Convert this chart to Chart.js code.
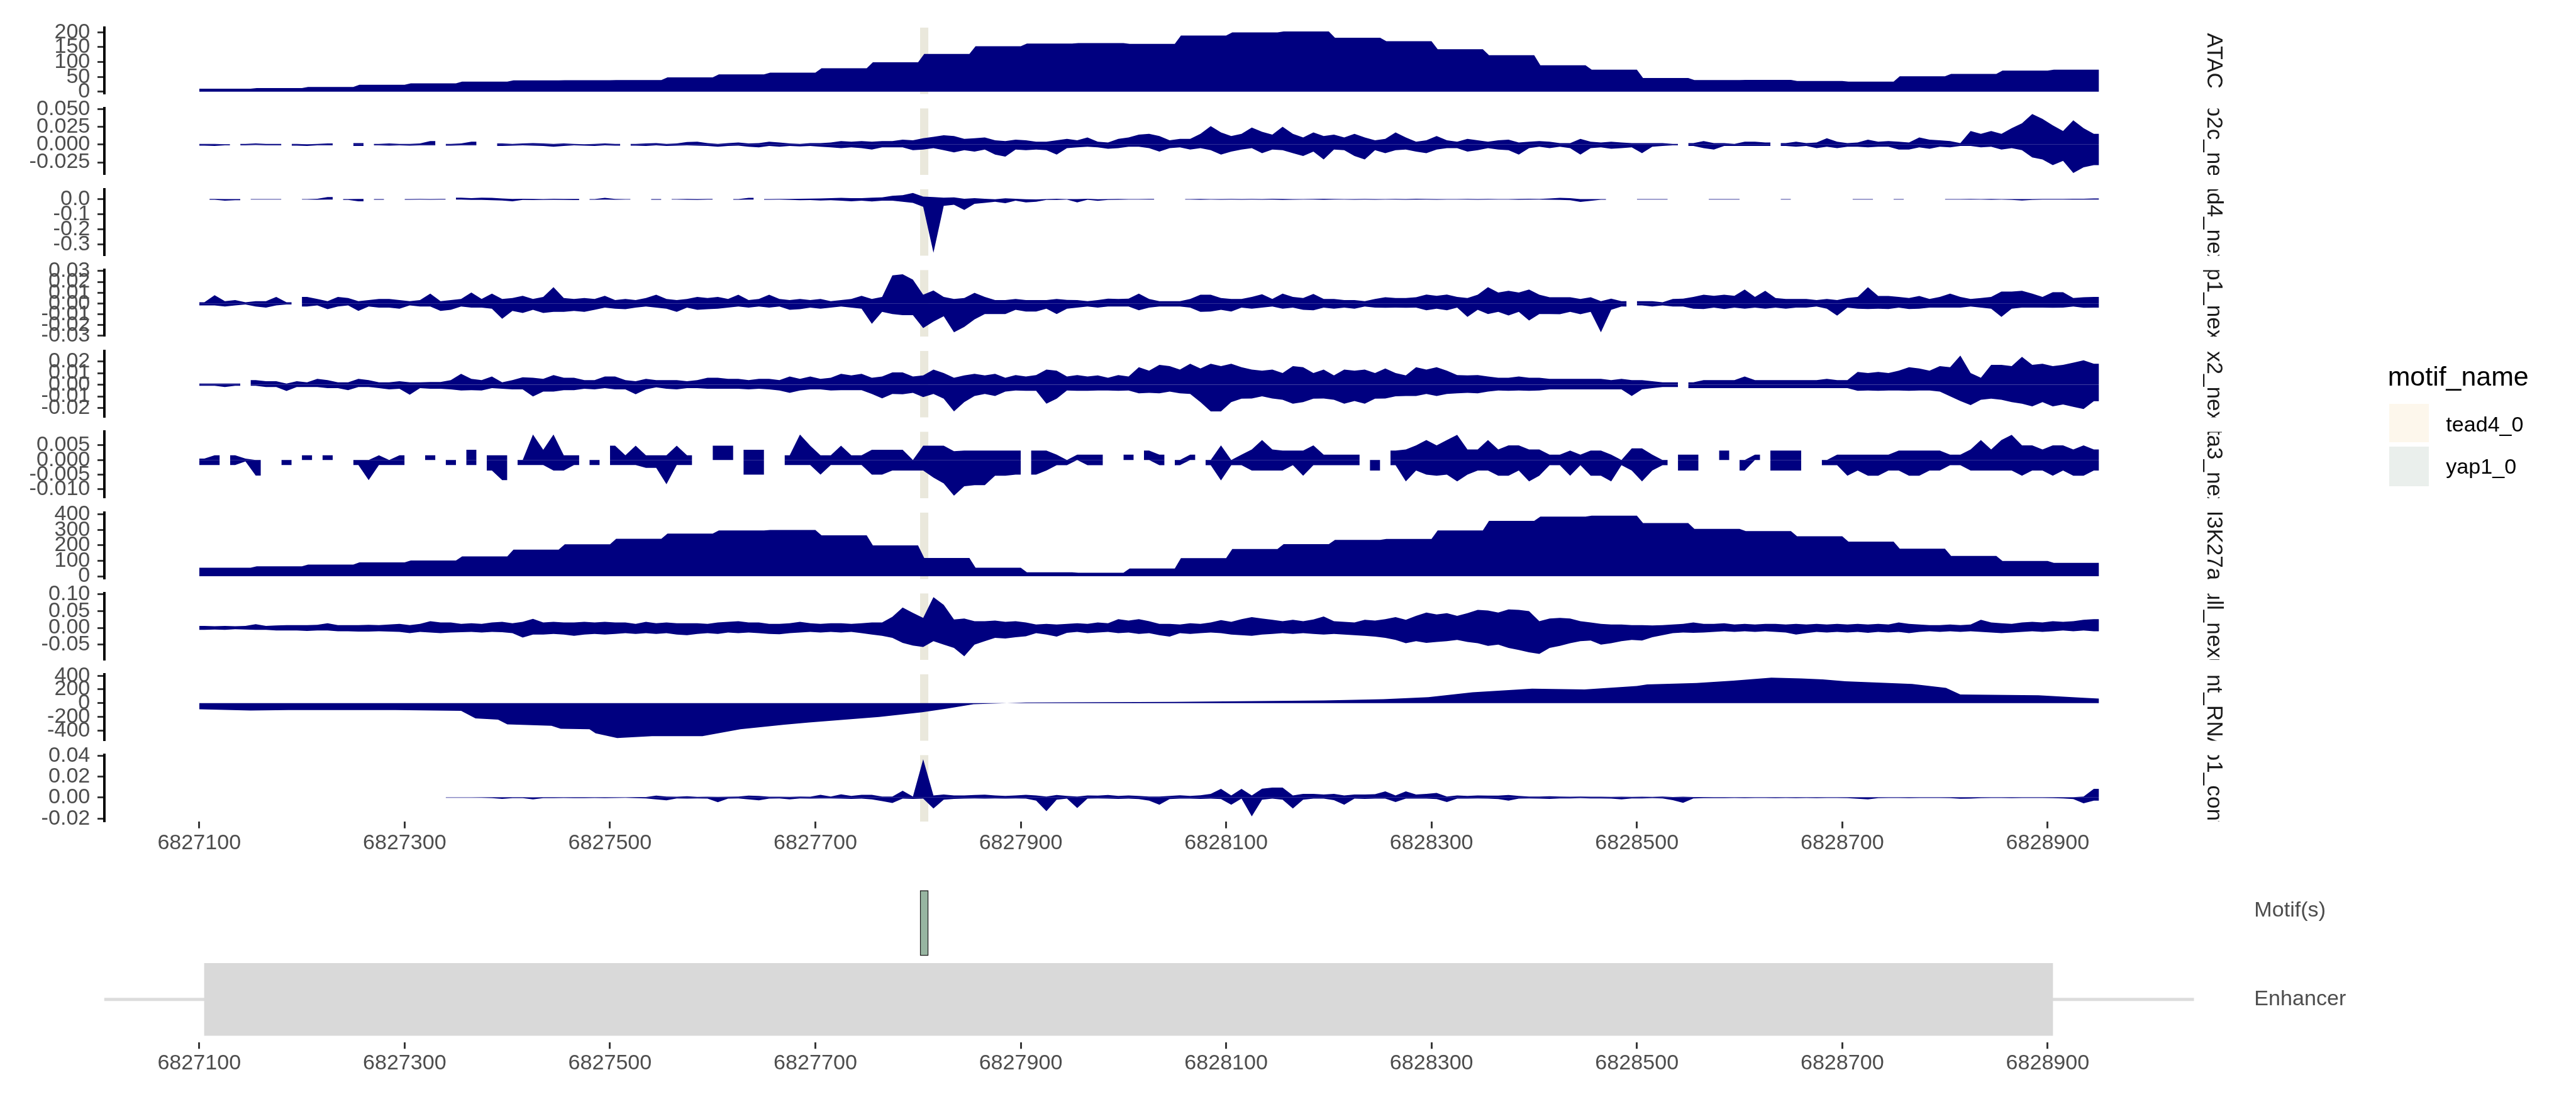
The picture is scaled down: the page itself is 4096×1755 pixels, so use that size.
<!DOCTYPE html>
<html><head><meta charset="utf-8">
<script src="https://cdn.jsdelivr.net/npm/chart.js@4.4.1/dist/chart.umd.min.js"></script>
<style>
html,body{margin:0;padding:0;background:#fff;}
#root{position:relative;width:4096px;height:1755px;overflow:hidden;background:#fff;}
#root canvas{position:absolute;left:0;}
.lg{position:absolute;line-height:1;white-space:nowrap;font-family:"Liberation Sans",Arial,Helvetica,sans-serif;}
</style></head>
<body><div id="root"></div>
<script>
const _ = null;
// ---------------- DATA ----------------
const xTickValues = [6827100,6827300,6827500,6827700,6827900,6828100,6828300,6828500,6828700,6828900];
// 50 bp bins starting at 6827100
const atacBins = [10,12,16,23,28,34,38,38.5,39,48,58,64,79,99,127,153,162,163.5,161,189,200,203,182,170,143,123,89,74,46,39,39.5,36,34,52,60,71,74];
const h3k27acBins = [55,64,76,90,102,129,172,207,243,276,297,300,265,200,118,55,26,23,50,117,176,208,235,242,297,359,386,392,344,307,293,259,224,178,132,99,87];
// nascent RNA (position, value)
const rnaPositions = [6827100,6827150,6827187,6827291,6827355,6827369,6827391,6827400,6827443,6827452,6827480,6827486,6827507,6827541,6827590,6827627,6827670,6827694,6827762,6827804,6827828,6827854,6827905,6828050,6828195,6828253,6828297,6828340,6828398,6828449,6828500,6828510,6828558,6828594,6828631,6828660,6828681,6828703,6828768,6828801,6828815,6828891,6828935,6828950];
const rnaValues = [-89,-109,-101,-101,-113,-222,-242,-310,-330,-375,-382,-442,-511,-483,-483,-382,-314,-282,-202,-133,-81,-15,8,19,39,58,88,158,212,200,250,274,293,328,373,360,346,319,281,223,127,115,77,67];
// 10 bp bins centred at 6827105 + 10*j (positive / negative envelopes)
const tfap2cPos = [
.001,.001,.0005,_,.001,.0015,.001,.001,_,.001,
.0005,.001,.0015,_,_,.002,_,.001,.0015,.001,
.001,.0015,.005,_,.001,.0015,.004,_,_,.0015,
.001,.0015,.002,.0015,.001,.0015,.001,.0005,.001,.0015,
.001,_,.001,.0015,.002,.001,.0015,.0035,.004,.002,
.001,.002,.003,.0015,.002,.004,.003,.0015,.001,.002,
.002,.003,.005,.004,.005,.004,.005,.005,.007,.006,
.009,.011,.013,.012,.008,.009,.010,.006,.005,.007,
.006,.004,.004,.006,.008,.006,.010,.004,.003,.008,
.010,.014,.015,.012,.006,.008,.008,.015,.026,.017,
.012,.015,.024,.018,.014,.025,.015,.010,.017,.012,
.014,.010,.015,.010,.006,.008,.017,.010,.004,.006,
.012,.006,.004,.008,.006,.004,.006,.007,.003,.004,
.005,.004,.002,.002,.008,.004,.003,.004,.003,.002,
.002,.002,.002,.001,_,.002,.005,.002,.002,.001,
.004,.004,.003,_,.002,.004,.002,.003,.009,.004,
.002,.003,.007,.004,.005,.004,.003,.010,.007,.006,
.005,.002,.019,.015,.019,.015,.023,.030,.043,.036,
.027,.019,.034,.023,.015];
const tfap2cNeg = [
-.0015,-.002,-.001,_,-.001,-.0005,-.001,-.001,_,-.0015,
-.002,-.001,-.001,_,_,-.002,_,-.001,-.0015,-.001,
-.0015,-.001,-.001,_,-.0015,-.001,-.001,_,_,-.002,
-.0015,-.001,-.0015,-.002,-.003,-.002,-.001,-.0015,-.002,-.001,
-.0015,_,-.0015,-.002,-.001,-.002,-.0015,-.001,-.0015,-.002,
-.003,-.002,-.0015,-.003,-.004,-.002,-.003,-.002,-.0025,-.002,
-.003,-.004,-.005,-.004,-.005,-.007,-.004,-.004,-.004,-.008,
-.007,-.005,-.008,-.011,-.008,-.010,-.007,-.014,-.017,-.007,
-.008,-.007,-.008,-.014,-.005,-.004,-.003,-.004,-.006,-.005,
-.003,-.003,-.005,-.010,-.005,-.004,-.007,-.005,-.008,-.014,
-.010,-.007,-.005,-.012,-.007,-.008,-.012,-.016,-.010,-.021,
-.007,-.008,-.016,-.021,-.008,-.012,-.008,-.007,-.010,-.012,
-.007,-.005,-.005,-.010,-.008,-.005,-.007,-.008,-.014,-.005,
-.003,-.005,-.003,-.005,-.014,-.005,-.004,-.006,-.005,-.004,
-.012,-.003,-.002,-.001,_,-.002,-.005,-.007,-.002,-.002,
-.002,-.002,-.002,_,-.002,-.003,-.002,-.005,-.003,-.005,
-.003,-.003,-.004,-.003,-.003,-.007,-.007,-.004,-.006,-.003,
-.004,-.002,-.002,-.004,-.003,-.007,-.005,-.008,-.018,-.021,
-.029,-.023,-.040,-.032,-.029];
const tead4Pos = [
_,.003,.002,.002,_,.002,.002,.002,_,_,
.002,.004,.015,_,.002,.003,_,.002,_,_,
.002,.003,.002,.003,_,.011,.008,.011,.010,.006,
.003,.004,.003,.002,.004,.003,.003,_,.002,.010,
.003,.002,_,_,.002,_,.002,.003,.002,.003,
_,_,.002,.010,_,.002,.003,.003,.004,.005,
.006,.008,.010,.008,.008,.011,.013,.024,.028,.042,
.018,.015,.011,.013,.004,.008,.004,.001,.007,.004,
.001,0,.002,.004,.002,.002,.004,.001,.002,.003,
.002,.002,.003,_,_,_,.002,.003,.002,.002,
.003,.002,.003,.002,.004,.003,.002,.002,.003,.004,
.003,.002,.002,.003,.002,.002,.003,.002,.004,.003,
.002,.002,.002,.003,.002,.003,.002,.002,.003,.004,
.003,.006,.010,.008,.002,.002,.002,_,_,_,
.002,.002,.002,_,_,_,_,.002,.002,.002,
_,_,_,_,.002,_,_,_,_,_,
_,.002,.002,_,_,.002,_,_,_,_,
.002,.002,.003,.002,.003,.002,.002,.002,.002,.003,
.003,.003,.004,.004,.006];
const tead4Neg = [
_,-.003,-.009,-.006,_,-.002,-.002,-.002,_,_,
-.002,-.003,-.002,_,-.004,-.013,_,-.003,_,_,
-.003,-.002,-.003,-.002,_,-.002,-.004,-.004,-.006,-.008,
-.013,-.004,-.005,-.004,-.003,-.004,-.005,_,-.003,-.002,
-.003,-.002,_,_,-.003,_,-.002,-.003,-.004,-.002,
_,_,-.003,-.002,_,-.003,-.002,-.004,-.006,-.005,
-.008,-.006,-.009,-.013,-.009,-.014,-.009,-.009,-.016,-.023,
-.05,-.354,-.043,-.036,-.07,-.030,-.023,-.016,-.026,-.009,
-.020,-.016,-.004,-.004,-.002,-.020,-.003,-.010,-.004,-.003,
-.002,-.002,-.002,_,_,_,-.002,-.003,-.002,-.003,
-.002,-.003,-.002,-.003,-.002,-.004,-.003,-.002,-.002,-.003,
-.002,-.002,-.003,-.002,-.003,-.002,-.002,-.003,-.002,-.002,
-.003,-.002,-.002,-.002,-.003,-.002,-.002,-.002,-.003,-.002,
-.002,-.003,-.004,-.006,-.017,-.010,-.003,_,_,_,
-.002,-.002,-.002,_,_,_,_,-.002,-.002,-.002,
_,_,_,_,-.002,_,_,_,_,_,
_,-.002,-.002,_,_,-.002,_,_,_,_,
-.002,-.002,-.002,-.002,-.003,-.002,-.004,-.008,-.004,-.002,
-.002,-.002,-.002,-.002,-.002];
const yap1Pos = [
.001,.0076,.002,.003,.001,.002,.002,.006,.001,_,
.006,.004,.002,.006,.005,.002,.003,.004,.004,.003,
.002,.003,.009,.002,.003,.004,.010,.004,.009,.004,
.005,.007,.004,.006,.015,.005,.004,.005,.004,.007,
.003,.004,.003,.005,.008,.004,.003,.004,.006,.005,
.006,.004,.008,.003,.004,.008,.004,.003,.004,.003,
.004,.002,.003,.004,.007,.004,.006,.026,.027,.022,
.008,.012,.006,.004,.005,.0097,.006,.003,.003,.004,
.003,.003,.003,.004,.0032,.003,.002,.003,.0044,.004,
.0044,.009,.004,.002,.002,.002,.004,.008,.008,.005,
.004,.004,.006,.0085,.004,.009,.006,.005,.0087,.004,
.004,.003,.003,.002,.004,.0056,.005,.005,.0056,.0082,
.007,.0082,.006,.005,.008,.015,.010,.0116,.010,.0128,
.008,.0056,.0056,.0056,.004,.0056,.002,.0044,.002,_,
.002,.002,.001,.004,.0044,.006,.008,.007,.008,.007,
.0128,.006,.0116,.005,.004,.004,.004,.003,.004,.003,
.005,.006,.015,.0068,.0068,.006,.005,.0068,.004,.006,
.009,.006,.004,.005,.006,.011,.011,.0116,.009,.006,
.0104,.0104,.005,.0056,.006];
const yap1Neg = [
-.002,-.002,-.003,-.002,-.001,-.003,-.004,-.002,-.001,_,
-.003,-.002,-.0055,-.003,-.002,-.007,-.003,-.004,-.004,-.005,
-.002,-.003,-.003,-.007,-.006,-.003,-.004,-.004,-.005,-.0144,
-.007,-.009,-.006,-.009,-.008,-.008,-.007,-.008,-.006,-.004,
-.005,-.0055,-.004,-.003,-.004,-.005,-.008,-.004,-.006,-.0055,
-.005,-.004,-.003,-.004,-.003,-.004,-.003,-.006,-.0055,-.004,
-.005,-.004,-.003,-.004,-.005,-.019,-.008,-.010,-.011,-.011,
-.023,-.017,-.012,-.027,-.022,-.015,-.010,-.010,-.010,-.006,
-.0077,-.0077,-.005,-.010,-.005,-.004,-.003,-.004,-.003,-.003,
-.003,-.0065,-.004,-.003,-.003,-.003,-.004,-.008,-.0077,-.006,
-.0077,-.004,-.005,-.004,-.003,-.005,-.004,-.006,-.0065,-.004,
-.005,-.004,-.005,-.003,-.004,-.0041,-.004,-.0041,-.004,-.0065,
-.005,-.0065,-.004,-.0126,-.006,-.010,-.008,-.0113,-.008,-.016,
-.010,-.010,-.0101,-.008,-.0101,-.008,-.027,-.006,-.003,_,
-.002,-.003,-.002,-.003,-.003,-.005,-.0053,-.004,-.0053,-.004,
-.005,-.004,-.005,-.004,-.005,-.004,-.004,-.003,-.005,-.0114,
-.004,-.005,-.0053,-.005,-.0053,-.004,-.0053,-.005,-.004,-.004,
-.004,-.004,-.003,-.004,-.005,-.0126,-.005,-.004,-.004,-.004,
-.0041,-.004,-.003,-.0041,-.004];
const cdx2Pos = [
.001,.001,.001,.001,_,.004,.003,.003,.001,.003,
.002,.005,.004,.002,.002,.005,.004,.002,.002,.003,
.002,.002,.0023,.0023,.004,.0094,.005,.004,.007,.002,
.004,.0063,.006,.005,.0082,.006,.006,.004,.004,.007,
.007,.004,.003,.005,.004,.004,.004,.003,.004,.006,
.006,.005,.005,.004,.005,.005,.004,.007,.005,.007,
.005,.006,.0094,.008,.0094,.006,.007,.0106,.0106,.007,
.008,.013,.010,.006,.008,.0094,.008,.0094,.006,.0083,
.007,.0083,.013,.012,.007,.0083,.007,.008,.006,.0083,
.007,.015,.012,.017,.016,.013,.018,.014,.018,.016,
.018,.015,.013,.012,.013,.010,.016,.015,.010,.013,
.008,.013,.012,.013,.010,.014,.010,.008,.015,.013,
.015,.012,.0083,.008,.0083,.007,.006,.006,.007,.006,
.006,.005,.005,.005,.005,.005,.005,.004,.005,.004,
.004,.003,.002,.002,_,.002,.004,.004,.004,.004,
.007,.004,.004,.004,.004,.004,.004,.004,.005,.004,
.004,.011,.010,.011,.010,.012,.015,.014,.012,.016,
.015,.025,.010,.006,.017,.017,.016,.024,.017,.018,
.016,.017,.019,.021,.018];
const cdx2Neg = [
-.001,-.001,-.002,-.001,_,-.001,-.002,-.002,-.0054,-.002,
-.002,-.002,-.003,-.003,-.0047,-.002,-.002,-.003,-.004,-.0035,
-.0087,-.003,-.0035,-.0035,-.004,-.005,-.0047,-.005,-.003,-.0035,
-.004,-.004,-.0101,-.006,-.006,-.0047,-.0047,-.0035,-.004,-.003,
-.004,-.004,-.0082,-.004,-.0023,-.0035,-.004,-.003,-.003,-.0035,
-.0035,-.0035,-.0035,-.004,-.0035,-.004,-.005,-.007,-.005,-.004,
-.004,-.005,-.0047,-.0047,-.0047,-.008,-.0117,-.008,-.0082,-.007,
-.0106,-.008,-.012,-.023,-.015,-.0097,-.008,-.0097,-.006,-.005,
-.0052,-.0052,-.0164,-.012,-.005,-.0052,-.0052,-.005,-.005,-.0052,
-.005,-.0074,-.007,-.0074,-.006,-.0074,-.008,-.015,-.023,-.023,
-.015,-.012,-.0119,-.010,-.0119,-.013,-.0164,-.015,-.012,-.0119,
-.013,-.0164,-.014,-.0164,-.012,-.0119,-.010,-.0097,-.0097,-.008,
-.0097,-.008,-.0074,-.007,-.0074,-.006,-.005,-.0052,-.005,-.0052,
-.005,-.004,-.004,-.004,-.004,-.004,-.004,-.004,-.004,-.0097,
-.004,-.003,-.002,-.002,_,-.003,-.003,-.003,-.003,-.003,
-.003,-.003,-.003,-.003,-.003,-.003,-.003,-.003,-.003,-.003,
-.003,-.0052,-.005,-.0052,-.005,-.005,-.0052,-.005,-.005,-.006,
-.010,-.014,-.0175,-.013,-.012,-.013,-.015,-.0164,-.0187,-.015,
-.0187,-.017,-.019,-.021,-.0142];
const gata3Pos = [
.0005,.0016,_,.0016,.0005,0,_,_,0,_,
.0016,_,.0016,_,_,0,0,.0016,0,.0016,
_,_,.0016,_,0,_,.0035,_,.0016,.0016,
_,0,.0087,.0035,.0087,.0016,.0016,_,0,_,
.0049,.0016,.0049,.0016,.0016,.0016,.0049,.0016,_,_,
.0049,.0049,_,.0035,.0035,_,_,.0016,.0087,.0049,
.0016,.0016,.0049,.0016,.0016,.0035,.0035,.0035,.0035,0,
.0049,.0049,.0049,.003,.0032,.0032,.0032,.0032,.0032,.0032,
_,.0032,.0032,.0018,0,.0018,.0018,.0018,_,_,
.0018,_,.0032,.0018,_,0,.0018,_,0,.005,
0,.0018,.0036,.0068,.0036,.0032,.0032,.0032,.005,.0018,
.0018,.0018,.0018,_,0,_,.0032,.0036,.005,.0068,
.005,.0068,.0086,.0036,.0036,.0068,.0036,.005,.005,.0036,
.0036,.0018,.0018,.0032,.0018,.0032,.0032,.0018,0,.004,
.004,.0018,0,_,.0018,.0018,_,_,.0032,_,
0,.0018,_,.0032,.0032,.0032,_,_,0,.0018,
.0018,.0018,.0018,.0018,.0018,.0032,.0032,.0032,.0032,.0032,
.0018,.0018,.0036,.0068,.0036,.0068,.0086,.005,.005,.0036,
.005,.005,.0036,.005,.0036];
const gata3Neg = [
-.0017,-.0017,_,-.0017,-.0005,-.0053,_,_,-.0017,_,
0,_,0,_,_,-.0017,-.0069,-.0017,-.0017,-.0017,
_,_,0,_,-.0017,_,-.0017,_,-.0036,-.0069,
_,-.0017,-.0017,-.0017,-.0036,-.0036,-.0017,_,-.0017,_,
-.0017,-.0017,-.0017,-.0027,-.0027,-.0083,-.0017,-.0017,_,_,
0,0,_,-.005,-.005,_,_,-.0017,-.0017,-.0017,
-.005,-.0017,-.0017,-.0017,-.0017,-.005,-.005,-.0036,-.0036,-.0036,
-.0036,-.006,-.008,-.0122,-.009,-.0086,-.0086,-.0054,-.0054,-.005,
_,-.005,-.0036,-.0018,-.0018,0,-.0018,-.0018,_,_,
0,_,0,-.0018,_,-.0018,0,_,-.0018,-.007,
-.0018,-.0018,-.0036,-.0036,-.0036,-.0036,-.0018,-.0054,-.0018,-.0018,
-.0018,-.0018,-.0018,_,-.0036,_,-.0018,-.0073,-.0036,-.005,
-.0054,-.005,-.0073,-.005,-.0036,-.0036,-.0054,-.0054,-.0036,-.0073,
-.0054,-.0018,-.0018,-.0054,-.0018,-.0054,-.0054,-.0073,-.0018,-.0036,
-.0073,-.0036,-.0018,_,-.0036,-.0036,_,_,0,_,
-.0036,0,_,-.0036,-.0036,-.0036,_,_,-.0018,-.0018,
-.0054,-.0036,-.0054,-.0054,-.0036,-.0036,-.0054,-.0054,-.0036,-.0036,
-.0018,-.0018,-.0036,-.0036,-.0036,-.0036,-.0036,-.0054,-.0036,-.0036,
-.0054,-.0036,-.0054,-.0054,-.0036];
const pol2Pos = [
.006,.005,.006,.005,.006,.011,.006,.007,.008,.008,
.008,.009,.014,.008,.008,.008,.009,.008,.010,.012,
.008,.012,.020,.016,.016,.012,.014,.012,.016,.018,
.014,.018,.027,.016,.018,.016,.016,.018,.016,.018,
.016,.016,.012,.018,.014,.016,.014,.014,.014,.012,
.016,.018,.020,.016,.016,.012,.012,.014,.018,.014,
.012,.014,.014,.012,.014,.016,.016,.033,.061,.045,
.030,.092,.069,.025,.028,.020,.020,.022,.018,.020,
.016,.010,.012,.010,.012,.014,.012,.016,.014,.026,
.022,.026,.020,.012,.012,.010,.014,.012,.016,.023,
.018,.026,.032,.028,.024,.020,.024,.020,.025,.034,
.020,.018,.016,.024,.022,.026,.032,.024,.036,.046,
.040,.044,.036,.044,.054,.052,.046,.055,.054,.050,
.020,.028,.030,.028,.020,.016,.012,.010,.010,.008,
.008,.007,.008,.010,.012,.016,.012,.012,.014,.010,
.012,.010,.012,.012,.010,.012,.010,.012,.010,.012,
.010,.012,.010,.012,.010,.016,.012,.010,.008,.008,
.010,.008,.010,.024,.016,.014,.012,.016,.018,.016,
.020,.018,.020,.024,.026];
const pol2Neg = [
-.006,-.005,-.006,-.004,-.005,-.006,-.006,-.008,-.008,-.008,
-.009,-.008,-.008,-.010,-.010,-.011,-.011,-.010,-.011,-.012,
-.016,-.012,-.014,-.016,-.014,-.013,-.012,-.014,-.012,-.013,
-.016,-.029,-.020,-.020,-.018,-.020,-.024,-.020,-.018,-.020,
-.018,-.016,-.018,-.016,-.018,-.016,-.020,-.022,-.018,-.016,
-.018,-.014,-.016,-.014,-.016,-.018,-.019,-.016,-.014,-.012,
-.014,-.012,-.014,-.012,-.016,-.020,-.024,-.030,-.045,-.053,
-.057,-.040,-.050,-.060,-.085,-.050,-.040,-.030,-.032,-.028,
-.025,-.016,-.020,-.026,-.015,-.012,-.016,-.014,-.012,-.016,
-.014,-.018,-.016,-.022,-.026,-.016,-.018,-.016,-.014,-.016,
-.020,-.022,-.024,-.020,-.018,-.016,-.018,-.016,-.018,-.020,
-.018,-.020,-.022,-.024,-.026,-.030,-.036,-.046,-.040,-.045,
-.042,-.040,-.036,-.042,-.046,-.054,-.050,-.060,-.066,-.073,
-.078,-.060,-.054,-.046,-.040,-.038,-.050,-.046,-.040,-.036,
-.038,-.028,-.022,-.016,-.014,-.015,-.014,-.012,-.010,-.012,
-.010,-.012,-.010,-.012,-.014,-.020,-.016,-.012,-.014,-.012,
-.014,-.012,-.015,-.012,-.014,-.012,-.016,-.012,-.010,-.012,
-.010,-.012,-.010,-.012,-.014,-.016,-.014,-.012,-.010,-.012,
-.010,-.008,-.010,-.008,-.010];
const contribPos = [
_,_,_,_,_,_,_,_,_,_,
_,_,_,_,_,_,_,_,_,_,
_,_,_,_,.0002,.0002,.0002,.0003,.0003,.0004,
.0003,.0003,.0002,.0003,.0003,.0003,.0004,.0003,.0003,.0004,
.0003,.0003,.0005,.0005,.0018,.001,.0008,.0013,.0006,.0008,
.0006,.0008,.001,.0018,.0015,.0008,.0008,.0006,.001,.0008,
.0026,.001,.0031,.0015,.0026,.0026,.001,.001,.0065,.001,
.0366,.002,.003,.002,.002,.0025,.0028,.002,.0015,.002,
.0026,.002,.001,.0025,.0015,.001,.002,.0018,.0025,.0015,
.002,.0015,.001,.001,.0015,.0022,.0015,.0022,.0035,.0083,
.002,.0083,.002,.0085,.0095,.0095,.002,.0035,.0035,.003,
.0035,.002,.003,.003,.0033,.006,.002,.006,.003,.0035,
.0045,.001,.002,.0015,.002,.0018,.0018,.0025,.0015,.001,
.001,.0012,.001,.0008,.001,.0008,.0008,.0006,.0008,.0006,
.0008,.0006,.001,.0005,.0008,.0005,.0005,.0004,.0004,.0004,
.0004,.0003,.0004,.0003,.0004,.0003,.0003,.0004,.0003,.0003,
.0004,.0003,.0003,.0003,.0003,.0004,.0003,.0003,.0003,.0003,
.0003,.0004,.0003,.0003,.0003,.0003,.0003,.0003,.0003,.0003,
.0004,.0003,.0003,.001,.0083];
const contribNeg = [
_,_,_,_,_,_,_,_,_,_,
_,_,_,_,_,_,_,_,_,_,
_,_,_,_,-.0002,-.0003,-.0002,-.0003,-.0006,-.0013,
-.0005,-.0005,-.0018,-.0006,-.0005,-.0004,-.0005,-.0006,-.0004,-.0005,
-.0004,-.0003,-.0005,-.0008,-.0018,-.0026,-.0008,-.001,-.0008,-.001,
-.0044,-.001,-.0008,-.0018,-.0026,-.001,-.0008,-.0018,-.0008,-.001,
-.0008,-.0008,-.001,-.0013,-.001,-.0018,-.0034,-.0052,-.001,-.0013,
-.001,-.0105,-.002,-.0013,-.001,-.0008,-.001,-.0008,-.001,-.0008,
-.001,-.003,-.013,-.002,-.001,-.010,-.001,-.0008,-.001,-.0013,
-.001,-.0015,-.003,-.0068,-.0015,-.001,-.001,-.0013,-.001,-.0015,
-.0068,-.001,-.018,-.002,-.001,-.002,-.0105,-.002,-.001,-.001,
-.0025,-.0068,-.001,-.0013,-.001,-.001,-.0043,-.001,-.001,-.001,
-.0015,-.0043,-.001,-.001,-.0008,-.001,-.0015,-.003,-.001,-.0008,
-.001,-.0013,-.0008,-.0008,-.0006,-.0008,-.0008,-.001,-.0018,-.0008,
-.0008,-.0006,-.0008,-.0025,-.005,-.0008,-.0005,-.0005,-.0005,-.0004,
-.0005,-.0004,-.0004,-.0005,-.0004,-.0005,-.0004,-.0005,-.0004,-.0004,
-.0005,-.0012,-.0018,-.0005,-.0004,-.0004,-.0005,-.0004,-.0004,-.0004,
-.0005,-.0012,-.001,-.0005,-.0004,-.0004,-.0005,-.0004,-.0004,-.0004,
-.0005,-.0008,-.0015,-.0055,-.003];
// y tick values per track
const atacTicks = [0,50,100,150,200];
const tfap2cTicks = [-0.025,0,0.025,0.05];
const tead4Ticks = [-0.3,-0.2,-0.1,0];
const yap1Ticks = [-0.03,-0.02,-0.01,0,0.01,0.02,0.03];
const cdx2Ticks = [-0.02,-0.01,0,0.01,0.02];
const gata3Ticks = [-0.01,-0.005,0,0.005];
const h3k27acTicks = [0,100,200,300,400];
const pol2Ticks = [-0.05,0,0.05,0.1];
const rnaTicks = [-400,-200,0,200,400];
const contribTicks = [-0.02,0,0.02,0.04];
// motifs and enhancer
const motifNames = ['yap1_0'];
const motifStarts = [6827802];
const motifEnds = [6827810];
const enhancerStart = [6827105];
const enhancerEnd = [6828905];
const legendNames = ['tead4_0','yap1_0'];
const legendColors = ['#FDF7EC','#EAEFEC'];

// ---------------- LAYOUT (reference px, scaled by S) ----------------
const S = 0.975;
const W = 4096;
const FONT = '"Liberation Sans", Arial, Helvetica, sans-serif';
const NAVY = '#000080', BAND = '#EAE8DC', MOTIF_FILL = '#97B5A1', ENH_FILL = '#D9D9D9', BACKBONE = '#DCDCDC';
const AXIS_X = 170, PLOT_RIGHT = 3578, STRIP_X = 3610;
const FIRST_TOP = 45, PITCH = 131.8, PANEL_H = 108.3, PAD = 24, XAXIS_H = 60;
const X_MIN = 6827007.5, X_MAX = 6829042.5;
const BIN_FIRST = 6827105, BIN_STEP = 10;
const STEP_START = 6827100, STEP_BIN = 50, STEP_RAMP = 6;
const root = document.getElementById('root');

function binSeries(values) {
  const pts = [];
  values.forEach((v, j) => {
    const x = BIN_FIRST + BIN_STEP * j;
    if (v === null) { pts.push({x, y: null}); return; }
    const prevNull = j === 0 || values[j-1] === null;
    const nextNull = j === values.length - 1 || values[j+1] === null;
    if (prevNull) pts.push({x: x - BIN_STEP/2, y: v});
    pts.push({x, y: v});
    if (nextNull) pts.push({x: x + BIN_STEP/2, y: v});
  });
  return pts;
}
function stepSeries(values) {
  const pts = [];
  values.forEach((v, k) => {
    const s = STEP_START + STEP_BIN * k;
    if (k > 0) pts.push({x: s, y: values[k-1]});
    pts.push({x: s + (k > 0 ? STEP_RAMP : 0), y: v});
  });
  pts.push({x: STEP_START + STEP_BIN * values.length, y: values[values.length-1]});
  return pts;
}
const rnaSeries = rnaPositions.map((x, i) => ({x, y: rnaValues[i]}));

const bandPlugin = {
  id: 'band',
  beforeDatasetsDraw(chart) {
    const {ctx, chartArea: a, scales: {x}} = chart;
    ctx.save();
    ctx.fillStyle = BAND;
    motifStarts.forEach((s, i) => {
      const x1 = x.getPixelForValue(s), x2 = x.getPixelForValue(motifEnds[i]);
      ctx.fillRect(x1, a.top, x2 - x1, a.bottom - a.top);
    });
    ctx.restore();
  }
};
const stripPlugin = {
  id: 'strip',
  afterDraw(chart, args, opts) {
    const {ctx, chartArea: a} = chart;
    ctx.save();
    ctx.beginPath();
    ctx.rect(STRIP_X*S - 40, a.top, 80, a.bottom - a.top);
    ctx.clip();
    ctx.translate(STRIP_X*S, (a.top + a.bottom) / 2);
    ctx.rotate(Math.PI / 2);
    ctx.fillStyle = '#1A1A1A';
    ctx.font = (36*S) + 'px ' + FONT;
    ctx.textAlign = 'center';
    ctx.textBaseline = 'middle';
    ctx.fillText(opts.text, 0, 0);
    ctx.restore();
  }
};
const backbonePlugin = {
  id: 'backbone',
  beforeDatasetsDraw(chart) {
    const {ctx, chartArea: a, scales: {y}} = chart;
    const yc = y.getPixelForValue(0);
    ctx.save();
    ctx.strokeStyle = BACKBONE;
    ctx.lineWidth = 5*S;
    ctx.beginPath(); ctx.moveTo(a.left, yc); ctx.lineTo(a.right, yc); ctx.stroke();
    ctx.restore();
  }
};

function addCanvas(areaTop, areaBottom, extraTop, extraBottom) {
  const cTop = Math.floor((areaTop - extraTop) * S);
  const cBottom = Math.ceil((areaBottom + extraBottom) * S);
  const c = document.createElement('canvas');
  c.width = W; c.height = cBottom - cTop;
  c.style.top = cTop + 'px';
  c.style.width = W + 'px'; c.style.height = (cBottom - cTop) + 'px';
  root.appendChild(c);
  return {c, padTop: areaTop*S - cTop, padBottom: cBottom - areaBottom*S, h: cBottom - cTop};
}
const tickFont = {family: FONT, size: 35*S};
function noPad(s) { s.paddingTop = 0; s.paddingBottom = 0; }
function xScale(show) {
  const sc = {
    type: 'linear', min: X_MIN, max: X_MAX, display: show,
    afterBuildTicks: s => { s.ticks = xTickValues.map(v => ({value: v})); },
    grid: {drawOnChartArea: false, drawTicks: true, tickLength: 11*S, tickWidth: 3*S, tickColor: '#333333'},
    border: {display: false},
    ticks: {padding: 3*S, font: tickFont, color: '#4D4D4D', callback: v => String(v), autoSkip: false, maxRotation: 0, minRotation: 0}
  };
  if (show) sc.afterFit = s => { s.height = XAXIS_H*S; s.paddingLeft = 0; s.paddingRight = 0; };
  return sc;
}

const tracks = [
  {label: 'ATAC', data: [stepSeries(atacBins)], min: -8, max: 216, ticks: atacTicks, dec: 0},
  {label: 'Tfap2c_nexus', data: [binSeries(tfap2cPos), binSeries(tfap2cNeg)], min: -0.0426, max: 0.0508, ticks: tfap2cTicks, dec: 3},
  {label: 'Tead4_nexus', data: [binSeries(tead4Pos), binSeries(tead4Neg)], min: -0.374, max: 0.0668, ticks: tead4Ticks, dec: 1},
  {label: 'Yap1_nexus', data: [binSeries(yap1Pos), binSeries(yap1Neg)], min: -0.0309, max: 0.0309, ticks: yap1Ticks, dec: 2},
  {label: 'Cdx2_nexus', data: [binSeries(cdx2Pos), binSeries(cdx2Neg)], min: -0.0281, max: 0.029, ticks: cdx2Ticks, dec: 2},
  {label: 'Gata3_nexus', data: [binSeries(gata3Pos), binSeries(gata3Neg)], min: -0.01306, max: 0.00964, ticks: gata3Ticks, dec: 3},
  {label: 'H3K27ac', data: [stepSeries(h3k27acBins)], min: -18, max: 412, ticks: h3k27acTicks, dec: 0},
  {label: 'Null_nexus', data: [binSeries(pol2Pos), binSeries(pol2Neg)], min: -0.0958, max: 0.1029, ticks: pol2Ticks, dec: 2},
  {label: 'nascent_RNA_seq', data: [rnaSeries], min: -549, max: 421, ticks: rnaTicks, dec: 0},
  {label: 'yap1_contrib', data: [binSeries(contribPos), binSeries(contribNeg)], min: -0.0229, max: 0.0405, ticks: contribTicks, dec: 2, xAxis: true}
];

tracks.forEach((t, k) => {
  const top = FIRST_TOP + PITCH * k, bottom = top + PANEL_H;
  const cv = addCanvas(top, bottom, PAD, t.xAxis ? XAXIS_H : PAD);
  new Chart(cv.c, {
    type: 'line',
    data: {datasets: t.data.map(d => ({data: d, fill: 'origin', backgroundColor: NAVY, borderColor: 'rgba(0,0,0,0)', borderWidth: 0, pointRadius: 0, tension: 0, spanGaps: false}))},
    options: {
      responsive: false, animation: false, events: [], devicePixelRatio: 1,
      layout: {padding: {top: cv.padTop, bottom: t.xAxis ? cv.padBottom - XAXIS_H*S : cv.padBottom, left: 0, right: W - PLOT_RIGHT*S}},
      plugins: {legend: {display: false}, tooltip: {enabled: false}, strip: {text: t.label}},
      scales: {
        x: xScale(!!t.xAxis),
        y: {
          type: 'linear', min: t.min, max: t.max,
          afterFit: s => { s.width = AXIS_X*S; noPad(s); },
          afterBuildTicks: s => { s.ticks = t.ticks.map(v => ({value: v})); },
          grid: {drawOnChartArea: false, drawTicks: true, tickLength: 11*S, tickWidth: 3*S, tickColor: '#333333'},
          border: {display: true, color: '#000000', width: 4*S},
          ticks: {padding: 12*S, font: tickFont, color: '#4D4D4D', autoSkip: false, callback: v => Number(v).toFixed(t.dec)}
        }
      }
    },
    plugins: [bandPlugin, stripPlugin]
  });
});

function trackChart(areaTop, areaBottom, withAxis, label, bars, fill, border, thickness, labelOffset, extraPlugins) {
  const cv = addCanvas(areaTop, areaBottom, 0, withAxis ? XAXIS_H : 0);
  new Chart(cv.c, {
    type: 'bar',
    data: {labels: [label], datasets: [{data: bars, backgroundColor: fill, borderColor: border || 'rgba(0,0,0,0)', borderWidth: border ? 1.5*S : 0, borderSkipped: false, barThickness: thickness*S}]},
    options: {
      indexAxis: 'y', responsive: false, animation: false, events: [], devicePixelRatio: 1,
      layout: {padding: {top: cv.padTop, bottom: withAxis ? cv.padBottom - XAXIS_H*S : cv.padBottom, left: AXIS_X*S, right: 0}},
      plugins: {legend: {display: false}, tooltip: {enabled: false}},
      scales: {
        x: xScale(withAxis),
        y: {
          position: 'right',
          afterFit: s => { s.width = W - PLOT_RIGHT*S; noPad(s); },
          grid: {display: false}, border: {display: false},
          ticks: {padding: 90*S, labelOffset: labelOffset*S, font: tickFont, color: '#4D4D4D'}
        }
      }
    },
    plugins: extraPlugins
  });
}
trackChart(1440, 1570, false, 'Motif(s)', motifStarts.map((s, i) => [s, motifEnds[i]]), MOTIF_FILL, '#1A1A1A', 106, -20, []);
trackChart(1560, 1699, true, 'Enhancer', enhancerStart.map((s, i) => [s, enhancerEnd[i]]), ENH_FILL, null, 118, 0, [backbonePlugin]);

// ---------------- legend ----------------
function txt(str, x, baseline, size, color) {
  const d = document.createElement('div');
  d.className = 'lg';
  d.textContent = str;
  d.style.left = (x*S) + 'px';
  d.style.top = ((baseline - 0.8465*size) * S) + 'px';
  d.style.fontSize = (size*S) + 'px';
  d.style.color = color;
  root.appendChild(d);
}
txt('motif_name', 3894, 629.5, 44, '#000000');
const keyTops = [658, 728], keyH = [63, 65], labelBase = [703.6, 772];
legendNames.forEach((n, i) => {
  const k = document.createElement('div');
  k.style.position = 'absolute';
  k.style.left = (3896*S) + 'px';
  k.style.top = (keyTops[i]*S) + 'px';
  k.style.width = (65*S) + 'px';
  k.style.height = (keyH[i]*S) + 'px';
  k.style.background = legendColors[i];
  root.appendChild(k);
  txt(n, 3989, labelBase[i], 35, '#000000');
});
</script></body></html>
